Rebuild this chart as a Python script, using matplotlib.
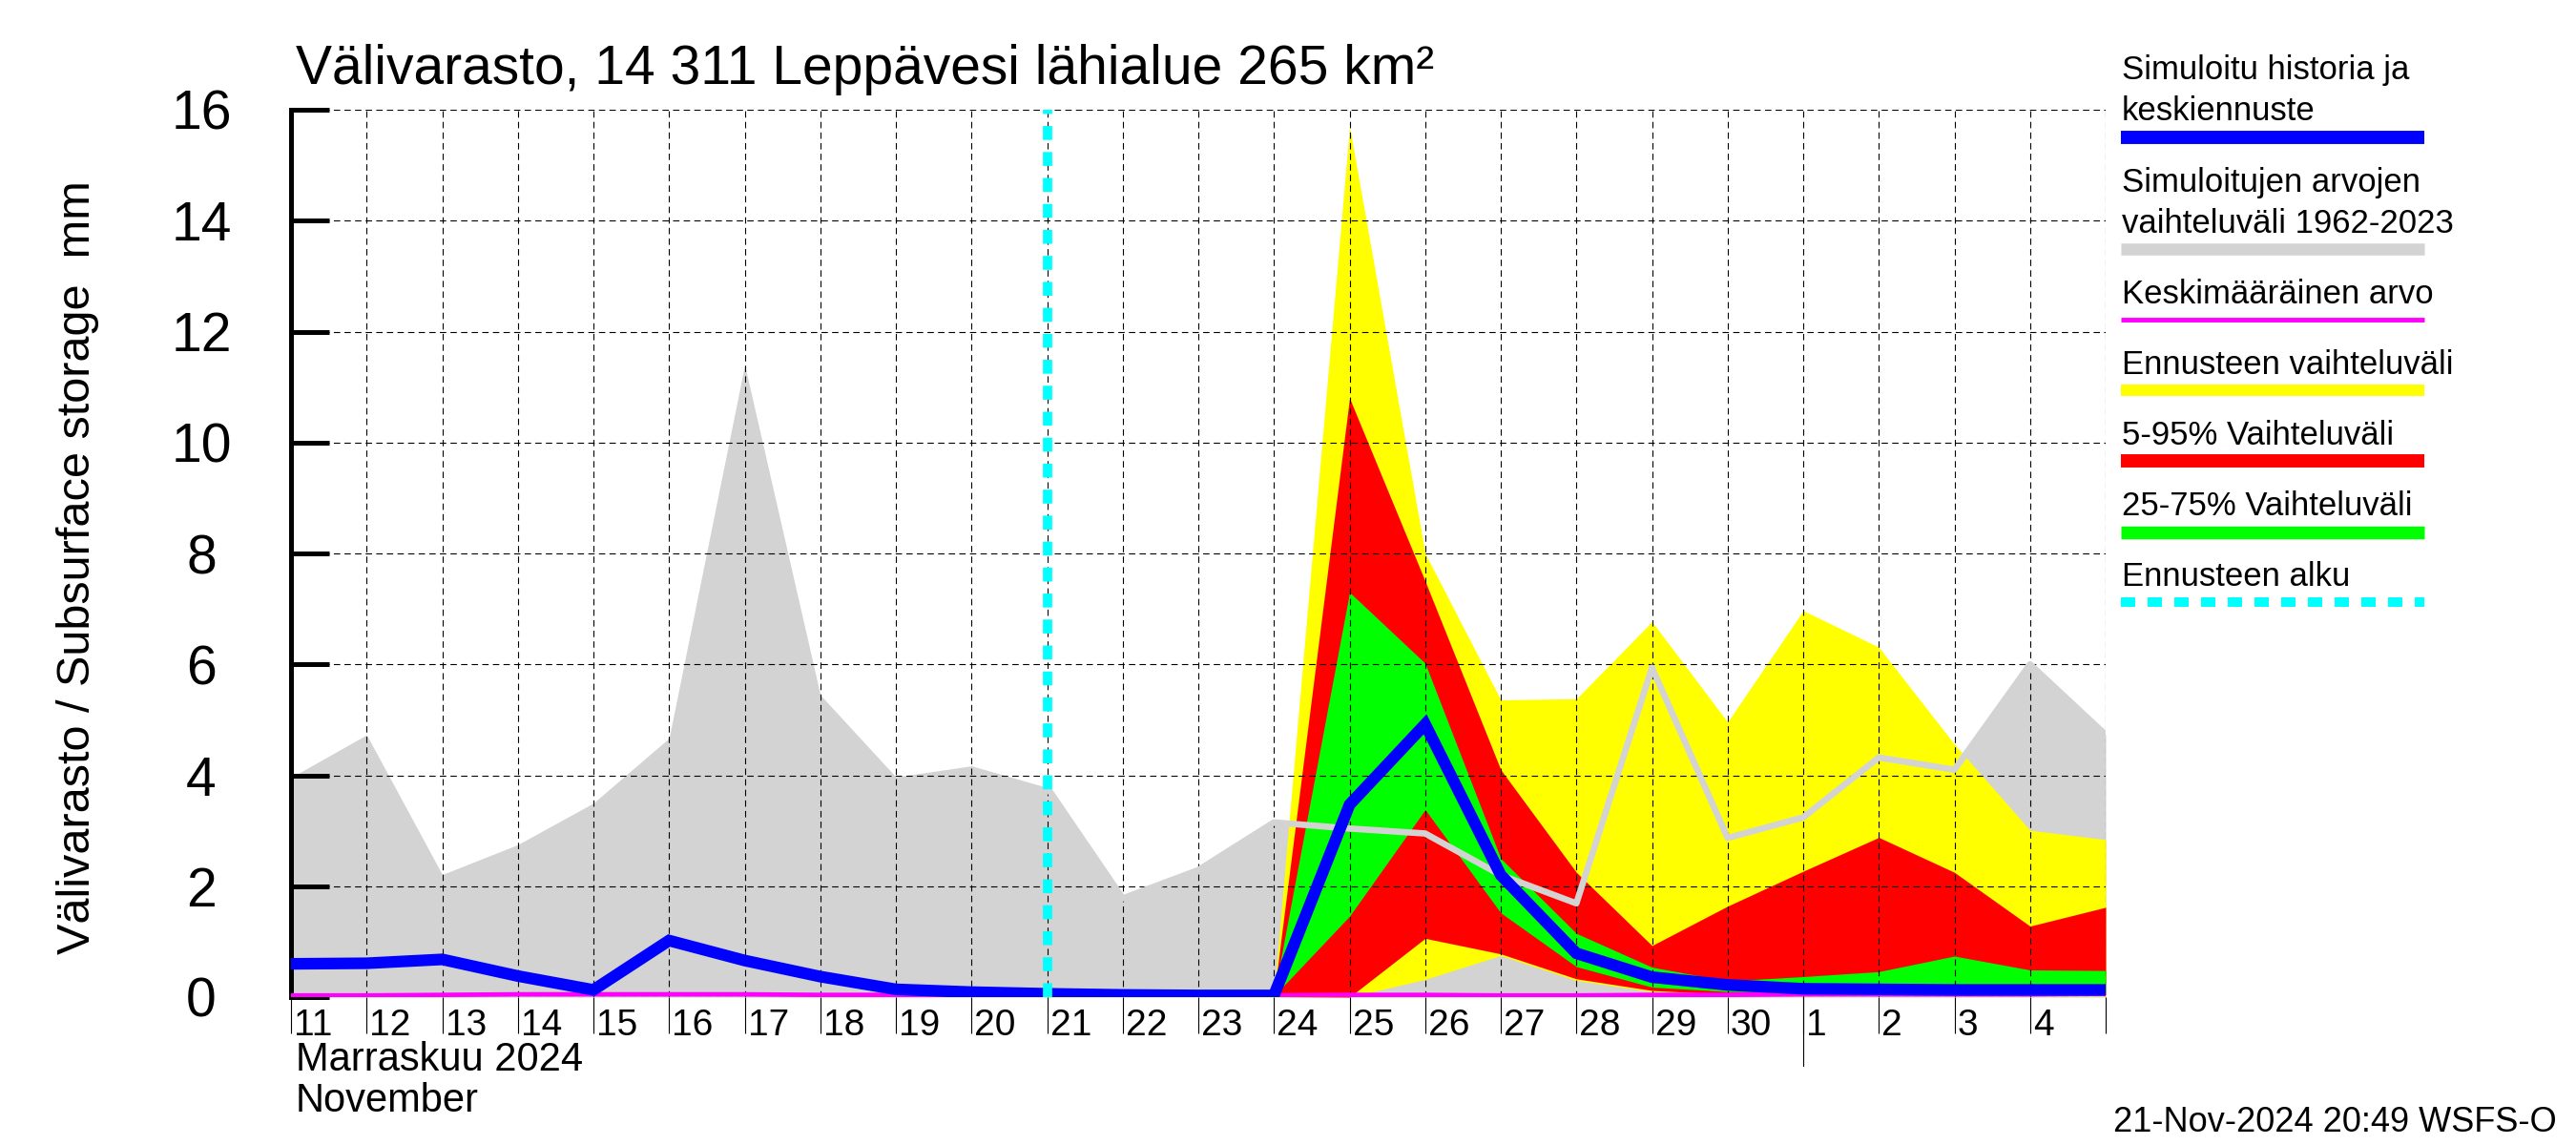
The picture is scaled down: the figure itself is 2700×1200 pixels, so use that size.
import numpy as np
import matplotlib
matplotlib.use("Agg")
import matplotlib.pyplot as plt
import matplotlib.transforms as mtransforms

plt.rcParams['font.family'] = ['Liberation Sans', 'DejaVu Sans']

# days from 11 Nov 2024 to 5 Dec 2024 (index 0 = Nov 11)
day_labels = ['11', '12', '13', '14', '15', '16', '17', '18', '19', '20', '21', '22',
              '23', '24', '25', '26', '27', '28', '29', '30', '1', '2', '3', '4']

# historical range 1962-2023 (grey)
hist_max = [3.96, 4.73, 2.21, 2.75, 3.5, 4.67, 11.4, 5.45, 3.97, 4.17, 3.78, 1.78, 2.29,
            3.15, 3.04, 2.95, 2.2, 1.69, 5.94, 2.87, 3.24, 4.32, 4.1, 6.0, 4.73]
hist_min = [0.0, 0.0, 0.0, 0.0, 0.0, 0.0, 0.0, 0.0, 0.0, 0.0, 0.0, 0.0, 0.0,
            0.0, 0.0, 0.0, 0.0, 0.0, 0.0, 0.0, 0.0, 0.0, 0.0, 0.0, 0.0]
# mean value (magenta)
mean_val = [0.03, 0.03, 0.04, 0.05, 0.05, 0.05, 0.05, 0.04, 0.04, 0.04, 0.03, 0.03, 0.03,
            0.03, 0.04, 0.04, 0.03, 0.03, 0.04, 0.04, 0.05, 0.05, 0.05, 0.05, 0.06]
# simulated history + median forecast (blue)
sim = [0.6, 0.61, 0.68, 0.38, 0.13, 1.02, 0.66, 0.37, 0.14, 0.09, 0.06, 0.04, 0.03,
       0.03, 3.47, 4.92, 2.2, 0.79, 0.36, 0.22, 0.15, 0.14, 0.13, 0.13, 0.13]

# forecast period starts on Nov 21 (index 10)
fc_start = 10
fc_max = [0.03, 0.1, 0.06, 0.04, 15.7, 8.0, 5.36, 5.38, 6.77, 4.96, 6.97, 6.31, 4.56, 3.01, 2.84]
fc_p95 = [0.03, 0.06, 0.05, 0.03, 10.8, 7.5, 4.1, 2.25, 0.93, 1.64, 2.27, 2.88, 2.25, 1.28, 1.62]
fc_p75 = [0.02, 0.05, 0.04, 0.03, 7.3, 6.02, 2.5, 1.15, 0.54, 0.29, 0.37, 0.46, 0.74, 0.49, 0.48]
fc_p25 = [0.02, 0.03, 0.03, 0.02, 1.46, 3.38, 1.52, 0.55, 0.18, 0.1, 0.1, 0.1, 0.1, 0.1, 0.1]
fc_p05 = [0.01, 0.02, 0.02, 0.01, 0.0, 1.06, 0.78, 0.33, 0.12, 0.05, 0.04, 0.04, 0.04, 0.04, 0.04]
fc_min = [0.0, 0.01, 0.01, 0.0, 0.0, 0.32, 0.75, 0.3, 0.1, 0.03, 0.02, 0.02, 0.02, 0.02, 0.02]

legend_labels = [['Simuloitu historia ja', 'keskiennuste'],
                 ['Simuloitujen arvojen', 'vaihteluväli 1962-2023'],
                 ['Keskimääräinen arvo'],
                 ['Ennusteen vaihteluväli'],
                 ['5-95% Vaihteluväli'],
                 ['25-75% Vaihteluväli'],
                 ['Ennusteen alku']]

GREY = '#d3d3d3'
x = np.arange(len(hist_max))
xf = x[fc_start:]

W, H = 2700, 1200
fig = plt.figure(figsize=(27, 12), dpi=100)
ax = fig.add_axes([305 / W, 1 - 1045 / H, (2207 - 305) / W, (1045 - 115) / H])

ax.fill_between(x, hist_min, hist_max, color=GREY, lw=0, zorder=1)
ax.fill_between(xf, fc_min, fc_max, color='#ffff00', lw=0, zorder=1.1)
ax.fill_between(xf, fc_p05, fc_p95, color='#ff0000', lw=0, zorder=1.2)
ax.fill_between(xf, fc_p25, fc_p75, color='#00ff00', lw=0, zorder=1.3)
ax.plot(xf, hist_max[fc_start:], color=GREY, lw=4.8, zorder=3)
ax.plot(x, mean_val, color='#ff00ff', lw=3.4, zorder=4)
ax.plot(x, sim, color='#0000ff', lw=8.8, zorder=5, solid_joinstyle='miter')
ax.axvline(fc_start, color='#00ffff', lw=7, dashes=(1.5, 1.3), zorder=6)

ax.set_xlim(0, 24)
ax.set_ylim(0, 16)
ax.set_axisbelow('line')
ax.grid(True, color='black', linestyle=(0, (6, 4)), linewidth=0.8)

for s in ['top', 'right', 'bottom']:
    ax.spines[s].set_visible(False)
ax.spines['left'].set_linewidth(3.6)

ax.set_yticks(np.arange(0, 17, 2))
ax.tick_params(axis='y', direction='in', length=29, width=3.6, labelsize=41, pad=67.7)
for lab in ax.get_yticklabels():
    lab.set_horizontalalignment('center')

ax.set_xticks(x)
ax.set_xticklabels([])
ax.tick_params(axis='x', direction='out', length=27, width=0.8)

trans = mtransforms.blended_transform_factory(ax.transData, ax.transAxes)
for i, lab in enumerate(day_labels):
    ax.text(i + 0.04, -12 / 930, lab, transform=trans, ha='left', va='top', fontsize=28)
# month separator
ax.plot([20, 20], [0, -72 / 930], transform=trans, color='black', lw=0.8, clip_on=False)

fig.text(310 / W, 1 - 88 / H, 'Välivarasto, 14 311 Leppävesi lähialue 265 km²',
         fontsize=41, va='baseline', ha='left')
fig.text(82 / W, 1 - 595 / H, 'Välivarasto / Subsurface storage  mm', rotation=90,
         fontsize=35, va='center', ha='center')
fig.text(310 / W, 1 - 1122 / H, 'Marraskuu 2024', fontsize=30, va='baseline')
fig.text(310 / W, 1 - 1165 / H, 'November', fontsize=30, va='baseline')
fig.text(2680 / W, 1 - 1186 / H, '21-Nov-2024 20:49 WSFS-O', fontsize=26, va='baseline', ha='right')

# legend drawn in pixel coordinates
lax = fig.add_axes([0, 0, 1, 1])
lax.set_xlim(0, W)
lax.set_ylim(H, 0)
lax.axis('off')
bar_y = [144, 261, 335, 409, 483, 558, 631]
bar_styles = [dict(color='#0000ff', lw=10),
              dict(color=GREY, lw=9),
              dict(color='#ff00ff', lw=3.5),
              dict(color='#ffff00', lw=8.6),
              dict(color='#ff0000', lw=10),
              dict(color='#00ff00', lw=9.7),
              dict(color='#00ffff', lw=7.2, dashes=(1.5, 1.3))]
for lines, by, st in zip(legend_labels, bar_y, bar_styles):
    lax.plot([2223, 2541], [by, by], solid_capstyle='butt', dash_capstyle='butt', **st)
    for k, t in enumerate(reversed(lines)):
        lax.text(2224, by - 17.5 - 43 * k, t, fontsize=25, va='baseline', ha='left')

fig.savefig('out.png', dpi=100)
